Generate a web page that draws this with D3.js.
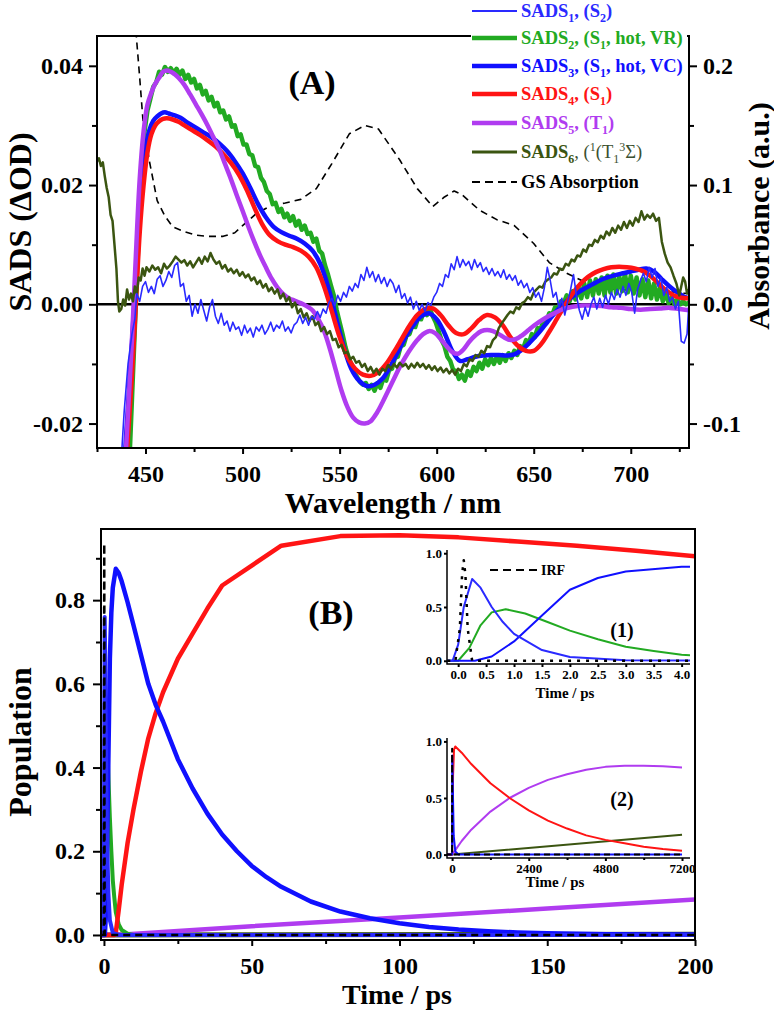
<!DOCTYPE html>
<html>
<head>
<meta charset="utf-8">
<script src="https://cdn.jsdelivr.net/npm/d3@7"></script>
<style>
  body { margin: 0; background: #fff; }
  svg { display: block; }
</style>
</head>
<body>
<svg id="chart" width="774" height="1011"></svg>
<script>
// ---------- data, panel A (SADS spectra) ----------
const nmTicks = [450, 500, 550, 600, 650, 700];
const nmMinor = [425, 475, 525, 575, 625, 675, 725];
const sadsTicks = [-0.02, 0, 0.02, 0.04];
const sadsMinor = [-0.01, 0.01, 0.03];
const absTicks = [-0.1, 0, 0.1, 0.2];
const absMinor = [-0.05, 0.05, 0.15];

// SADS1 (S2), thin blue, [nm, dOD]
const sads1 = [[437.5,-0.026],[439,-0.018],[441,-0.010],[443,-0.005],[444.5,-0.0025],[445.5,0.0018],[447,0.0005],[448.5,0.0030],[450,0.0038],[451.5,0.0020],[453,0.0030],[454.5,0.0018],[456,0.0042],[457.5,0.0048],[459,0.0030],[460.5,0.0040],[462,0.0055],[463.5,0.0045],[465,0.0065],[466.5,0.0070],[468,0.0030],[469.5,0.0035],[471,0.0005],[472.5,0.0015],[474,-0.0020],[475.5,0.0000],[477,-0.0015],[478.5,0.0008],[480,-0.0010],[481.5,-0.0028],[483,-0.0005],[484.5,0.0008],[486,-0.0020],[487.5,-0.0032],[489,-0.0015],[490.5,-0.0035],[492,-0.0028],[493.5,-0.0045],[495,-0.0030],[496.5,-0.0042],[498,-0.0038],[499.5,-0.0052],[501,-0.0035],[502.5,-0.0048],[504,-0.0040],[505.5,-0.0055],[507,-0.0038],[508.5,-0.0045],[510,-0.0035],[511.5,-0.0050],[513,-0.0042],[514.5,-0.0030],[516,-0.0045],[517.5,-0.0035],[519,-0.0040],[520.5,-0.0028],[522,-0.0045],[523.5,-0.0038],[525,-0.0048],[526.5,-0.0035],[528,-0.0030],[529.5,-0.0018],[531,-0.0032],[532.5,-0.0022],[534,-0.0035],[535.5,-0.0020],[537,-0.0025],[538.5,-0.0012],[540,-0.0022],[541.5,-0.0008],[543,-0.0015],[544.5,0.0003],[546,0.0010],[547.5,-0.0002],[549,0.0015],[550.5,0.0005],[552,0.0020],[553.5,0.0012],[555,0.0030],[556.5,0.0022],[558,0.0035],[559.5,0.0028],[561,0.0050],[562.5,0.0040],[564,0.0062],[565.5,0.0045],[567,0.0055],[568.5,0.0038],[570,0.0050],[571.5,0.0035],[573,0.0045],[574.5,0.0030],[576,0.0042],[577.5,0.0035],[579,0.0020],[580.5,0.0032],[582,0.0010],[583.5,0.0018],[585,0.0002],[586.5,0.0012],[588,-0.0008],[589.5,0.0005],[591,-0.0010],[592.5,0.0000],[594,-0.0012],[595.5,0.0003],[597,-0.0002],[598.5,0.0012],[600,0.0020],[601.5,0.0035],[603,0.0030],[604.5,0.0050],[606,0.0045],[607.5,0.0068],[609,0.0058],[610.5,0.0080],[612,0.0062],[613.5,0.0075],[615,0.0065],[616.5,0.0072],[618,0.0058],[619.5,0.0075],[621,0.0062],[622.5,0.0070],[624,0.0055],[625.5,0.0062],[627,0.0050],[628.5,0.0060],[630,0.0048],[631.5,0.0055],[633,0.0045],[634.5,0.0058],[636,0.0042],[637.5,0.0050],[639,0.0040],[640.5,0.0048],[642,0.0032],[643.5,0.0040],[645,0.0028],[646.5,0.0035],[648,0.0020],[649.5,0.0028],[651,0.0012],[652.5,0.0020],[654,0.0005],[655.5,0.0028],[657,0.0062],[658.5,0.0040],[660,0.0012],[661.5,0.0020],[663,-0.0005],[664.5,0.0010],[666,-0.0018],[667.5,0.0005],[669,0.0025],[670.5,0.0050],[672,0.0015],[673.5,-0.0010],[675,-0.0025],[676.5,-0.0005],[678,-0.0020],[679.5,0.0000],[681,0.0012],[682.5,-0.0008],[684,0.0010],[685.5,-0.0005],[687,0.0015],[688.5,0.0000],[690,0.0020],[691.5,0.0008],[693,0.0025],[694.5,0.0012],[696,0.0030],[697.5,0.0015],[699,0.0035],[700.5,0.0020],[702,-0.0015],[703.5,0.0025],[705,0.0040],[706.5,0.0052],[708,0.0038],[709.5,0.0062],[711,0.0045],[712.5,0.0060],[714,0.0030],[715.5,0.0045],[717,0.0015],[718.5,0.0028],[720,0.0005],[721.5,0.0012],[723,-0.0008],[724.5,0.0005],[726,-0.0062],[727.5,-0.0065],[729,-0.0050],[730,0.0005]];

// SADS2 (S1 hot VR), green
const sads2 = [[442,-0.024],[443.5,-0.012],[445,0.000],[446.5,0.012],[448,0.022],[449.5,0.029],[451,0.0325],[452.5,0.0345],[454,0.0365],[455.5,0.0372],[457,0.0390],[458.5,0.0385],[460,0.0398],[461.5,0.0390],[463,0.0396],[464.5,0.0388],[466,0.0395],[467.5,0.0385],[469,0.0392],[470.5,0.0378],[472,0.0385],[473.5,0.0372],[475,0.0378],[476.5,0.0362],[478,0.0368],[479.5,0.0352],[481,0.0358],[482.5,0.0342],[484,0.0348],[485.5,0.0332],[487,0.0338],[488.5,0.0322],[490,0.0325],[491.5,0.0310],[493,0.0315],[494.5,0.0298],[496,0.0300],[497.5,0.0282],[499,0.0285],[500.5,0.0268],[502,0.0268],[503.5,0.0252],[505,0.0250],[506.5,0.0232],[508,0.0230],[509.5,0.0212],[511,0.0205],[512.5,0.0190],[514,0.0185],[515.5,0.0168],[517,0.0170],[518.5,0.0155],[520,0.0160],[521.5,0.0146],[523,0.0152],[524.5,0.0140],[526,0.0148],[527.5,0.0132],[529,0.0140],[530.5,0.0125],[532,0.0132],[533.5,0.0118],[535,0.0120],[536.5,0.0105],[538,0.0110],[539.5,0.0090],[541,0.0085],[542.5,0.0065],[544,0.0050],[545.5,0.0032],[547,0.0015],[548.5,-0.0010],[550,-0.0030],[551.5,-0.0050],[553,-0.0072],[554.5,-0.0088],[556,-0.0100],[557.5,-0.0115],[559,-0.0122],[560.5,-0.0130],[562,-0.0135],[563.5,-0.0132],[565,-0.0142],[566.5,-0.0135],[568,-0.0145],[569.5,-0.0132],[571,-0.0140],[572.5,-0.0125],[574,-0.0128],[575.5,-0.0110],[577,-0.0108],[578.5,-0.0090],[580,-0.0088],[581.5,-0.0070],[583,-0.0068],[584.5,-0.0052],[586,-0.0050],[587.5,-0.0035],[589,-0.0038],[590.5,-0.0022],[592,-0.0025],[593.5,-0.0012],[595,-0.0018],[596.5,-0.0008],[598,-0.0020],[599.5,-0.0030],[601,-0.0045],[602.5,-0.0060],[604,-0.0070],[605.5,-0.0088],[607,-0.0095],[608.5,-0.0110],[610,-0.0112],[611.5,-0.0125],[613,-0.0118],[614.5,-0.0128],[616,-0.0112],[617.5,-0.0120],[619,-0.0105],[620.5,-0.0112],[622,-0.0098],[623.5,-0.0108],[625,-0.0092],[626.5,-0.0102],[628,-0.0090],[629.5,-0.0100],[631,-0.0088],[632.5,-0.0098],[634,-0.0085],[635.5,-0.0095],[637,-0.0082],[638.5,-0.0090],[640,-0.0078],[641.5,-0.0085],[643,-0.0070],[644.5,-0.0075],[646,-0.0060],[647.5,-0.0065],[649,-0.0050],[650.5,-0.0055],[652,-0.0040],[653.5,-0.0042],[655,-0.0028],[656.5,-0.0030],[658,-0.0015],[659.5,-0.0018],[661,-0.0005],[662.5,-0.0008],[664,0.0005],[665.5,0.0002],[667,0.0015],[668.5,0.0005],[670,0.0022],[671.5,0.0008],[673,0.0030],[674.5,0.0010],[676,0.0035],[677.5,0.0012],[679,0.0040],[680.5,0.0015],[682,0.0042],[683.5,0.0018],[685,0.0045],[686.5,0.0015],[688,0.0048],[689.5,0.0020],[691,0.0050],[692.5,0.0018],[694,0.0048],[695.5,0.0022],[697,0.0052],[698.5,0.0020],[700,0.0048],[701.5,0.0018],[703,0.0045],[704.5,0.0015],[706,0.0042],[707.5,0.0012],[709,0.0040],[710.5,0.0010],[712,0.0035],[713.5,0.0008],[715,0.0028],[716.5,0.0005],[718,0.0020],[719.5,0.0002],[721,0.0012],[722.5,0.0000],[724,0.0008],[725.5,0.0000],[727,0.0005],[728.5,0.0000],[730,0.0003]];

// SADS3 (S1 hot VC), blue
const sads3 = [[438.5,-0.030],[440,-0.022],[442,-0.012],[444,-0.001],[446,0.011],[448,0.020],[450,0.026],[452,0.0292],[454,0.0308],[456,0.0315],[458,0.0320],[460,0.0322],[462,0.0320],[465,0.0317],[468,0.0313],[471,0.0306],[474,0.0300],[477,0.0294],[480,0.0288],[484,0.0280],[488,0.0270],[492,0.0257],[496,0.0240],[500,0.0220],[504,0.0195],[508,0.0168],[512,0.0146],[516,0.0130],[520,0.0121],[524,0.0115],[528,0.0110],[532,0.0102],[536,0.0090],[540,0.0068],[544,0.0030],[548,-0.0020],[552,-0.0070],[556,-0.0108],[560,-0.0128],[564,-0.0137],[568,-0.0135],[572,-0.0125],[576,-0.0105],[580,-0.0080],[584,-0.0055],[588,-0.0035],[592,-0.0020],[596,-0.0015],[600,-0.0025],[604,-0.0048],[608,-0.0078],[612,-0.0095],[616,-0.0092],[620,-0.0088],[624,-0.0086],[628,-0.0085],[632,-0.0085],[636,-0.0086],[640,-0.0084],[644,-0.0076],[648,-0.0064],[652,-0.0050],[656,-0.0034],[660,-0.0018],[664,-0.0004],[668,0.0008],[672,0.0018],[676,0.0026],[680,0.0033],[684,0.0040],[688,0.0045],[692,0.0049],[696,0.0052],[700,0.0055],[704,0.0058],[708,0.0060],[712,0.0055],[716,0.0042],[720,0.0030],[724,0.0020],[728,0.0012],[730,0.0010]];

// SADS4 (S1), red
const sads4 = [[439.5,-0.030],[441,-0.022],[443,-0.012],[445,0.000],[447,0.012],[449,0.020],[451,0.0255],[453,0.0285],[455,0.0300],[457,0.0307],[459,0.0311],[461,0.0312],[464,0.0310],[467,0.0306],[470,0.0300],[474,0.0292],[478,0.0284],[482,0.0275],[486,0.0265],[490,0.0252],[494,0.0237],[498,0.0218],[502,0.0193],[506,0.0163],[510,0.0135],[514,0.0116],[518,0.0106],[522,0.0100],[526,0.0096],[530,0.0090],[534,0.0080],[538,0.0062],[542,0.0030],[546,-0.0012],[550,-0.0055],[554,-0.0088],[558,-0.0108],[562,-0.0118],[566,-0.0120],[570,-0.0114],[574,-0.0100],[578,-0.0080],[582,-0.0058],[586,-0.0036],[590,-0.0018],[594,-0.0008],[598,-0.0007],[602,-0.0018],[606,-0.0035],[610,-0.0048],[614,-0.0050],[618,-0.0040],[622,-0.0026],[626,-0.0018],[630,-0.0022],[634,-0.0035],[638,-0.0055],[642,-0.0070],[646,-0.0078],[650,-0.0078],[654,-0.0066],[658,-0.0046],[662,-0.0024],[666,-0.0002],[670,0.0018],[674,0.0034],[678,0.0046],[682,0.0054],[686,0.0059],[690,0.0062],[694,0.0063],[698,0.0062],[702,0.0060],[706,0.0056],[710,0.0048],[714,0.0036],[718,0.0024],[722,0.0015],[726,0.0011],[730,0.0010]];

// SADS5 (T1), purple
const sads5 = [[439,-0.030],[441,-0.018],[443,-0.006],[445,0.008],[447,0.021],[449,0.029],[451,0.0335],[453,0.0355],[455,0.0370],[457,0.0380],[459,0.0390],[461,0.0392],[463,0.0390],[465,0.0386],[467,0.0380],[470,0.0368],[473,0.0352],[476,0.0335],[479,0.0318],[482,0.0300],[485,0.0280],[488,0.0260],[491,0.0235],[494,0.0210],[497,0.0183],[500,0.0157],[503,0.0130],[506,0.0105],[509,0.0082],[512,0.0062],[515,0.0043],[518,0.0028],[521,0.0017],[524,0.0010],[527,0.0006],[530,0.0002],[533,-0.0003],[536,-0.0010],[539,-0.0025],[542,-0.0045],[545,-0.0075],[548,-0.0110],[551,-0.0145],[554,-0.0172],[557,-0.0190],[560,-0.0198],[563,-0.0200],[566,-0.0196],[569,-0.0183],[572,-0.0165],[575,-0.0145],[578,-0.0125],[581,-0.0105],[584,-0.0088],[587,-0.0073],[590,-0.0060],[593,-0.0050],[596,-0.0045],[599,-0.0048],[602,-0.0058],[605,-0.0070],[608,-0.0080],[611,-0.0083],[614,-0.0075],[617,-0.0062],[620,-0.0052],[623,-0.0045],[626,-0.0043],[629,-0.0045],[632,-0.0050],[635,-0.0056],[638,-0.0060],[641,-0.0058],[644,-0.0052],[647,-0.0044],[650,-0.0036],[655,-0.0025],[660,-0.0016],[665,-0.0008],[670,-0.0004],[675,-0.0002],[680,-0.0002],[685,-0.0003],[690,-0.0005],[695,-0.0006],[700,-0.0008],[705,-0.0009],[710,-0.0008],[715,-0.0007],[720,-0.0006],[725,-0.0008],[730,-0.0010]];

// SADS6, olive
const sads6 = [[425,0.0240],[426,0.0245],[427,0.0232],[428,0.0238],[429,0.0215],[430,0.0195],[431,0.0180],[432,0.0150],[433,0.0140],[434,0.0100],[435,0.0060],[435.8,0.0005],[436.5,-0.0012],[437.5,-0.0008],[438.5,0.0008],[439.5,-0.0002],[440.5,0.0025],[441.5,0.0008],[442.5,0.0018],[443.5,0.0005],[444.5,0.0030],[445.5,0.0018],[446.5,0.0045],[447.5,0.0040],[448.5,0.0060],[449.5,0.0048],[450.5,0.0062],[452,0.0055],[453.5,0.0065],[455,0.0058],[456.5,0.0062],[458,0.0052],[459.5,0.0068],[461,0.0060],[462.5,0.0065],[464,0.0072],[465.5,0.0080],[467,0.0075],[468.5,0.0070],[470,0.0074],[471.5,0.0065],[473,0.0072],[474.5,0.0062],[476,0.0070],[477.5,0.0078],[479,0.0068],[480.5,0.0080],[482,0.0072],[483.5,0.0086],[485,0.0075],[486.5,0.0068],[488,0.0072],[489.5,0.0060],[491,0.0066],[492.5,0.0055],[494,0.0060],[495.5,0.0052],[497,0.0058],[498.5,0.0048],[500,0.0054],[501.5,0.0045],[503,0.0050],[504.5,0.0040],[506,0.0045],[507.5,0.0034],[509,0.0040],[510.5,0.0028],[512,0.0034],[513.5,0.0022],[515,0.0028],[516.5,0.0018],[518,0.0025],[519.5,0.0010],[521,0.0018],[522.5,0.0005],[524,0.0012],[525.5,-0.0005],[527,0.0003],[528.5,-0.0015],[530,-0.0008],[531.5,-0.0022],[533,-0.0015],[534.5,-0.0028],[536,-0.0020],[537.5,-0.0035],[539,-0.0030],[540.5,-0.0045],[542,-0.0038],[543.5,-0.0050],[545,-0.0045],[546.5,-0.0060],[548,-0.0058],[549.5,-0.0072],[551,-0.0068],[552.5,-0.0082],[554,-0.0080],[555.5,-0.0092],[557,-0.0088],[558.5,-0.0098],[560,-0.0095],[561.5,-0.0105],[563,-0.0100],[564.5,-0.0112],[566,-0.0105],[567.5,-0.0115],[569,-0.0108],[570.5,-0.0118],[572,-0.0108],[573.5,-0.0112],[575,-0.0102],[576.5,-0.0108],[578,-0.0100],[579.5,-0.0106],[581,-0.0098],[582.5,-0.0104],[584,-0.0100],[585.5,-0.0108],[587,-0.0100],[588.5,-0.0106],[590,-0.0098],[591.5,-0.0105],[593,-0.0100],[594.5,-0.0108],[596,-0.0102],[597.5,-0.0110],[599,-0.0104],[600.5,-0.0112],[602,-0.0106],[603.5,-0.0114],[605,-0.0108],[606.5,-0.0116],[608,-0.0110],[609.5,-0.0118],[611,-0.0108],[612.5,-0.0112],[614,-0.0100],[615.5,-0.0104],[617,-0.0092],[618.5,-0.0095],[620,-0.0085],[621.5,-0.0088],[623,-0.0078],[624.5,-0.0082],[626,-0.0070],[627.5,-0.0072],[629,-0.0060],[630.5,-0.0055],[632,-0.0040],[633.5,-0.0032],[635,-0.0025],[636.5,-0.0018],[638,-0.0012],[639.5,-0.0015],[641,-0.0005],[642.5,-0.0008],[644,0.0002],[645.5,0.0005],[647,0.0012],[648.5,0.0008],[650,0.0020],[651.5,0.0025],[653,0.0030],[654.5,0.0028],[656,0.0038],[657.5,0.0042],[659,0.0045],[660.5,0.0052],[662,0.0050],[663.5,0.0060],[665,0.0058],[666.5,0.0068],[668,0.0065],[669.5,0.0075],[671,0.0072],[672.5,0.0082],[674,0.0080],[675.5,0.0092],[677,0.0088],[678.5,0.0100],[680,0.0098],[681.5,0.0108],[683,0.0104],[684.5,0.0115],[686,0.0110],[687.5,0.0122],[689,0.0116],[690.5,0.0128],[692,0.0120],[693.5,0.0132],[695,0.0125],[696.5,0.0138],[698,0.0128],[699.5,0.0140],[701,0.0132],[702.5,0.0145],[704,0.0138],[705.5,0.0156],[707,0.0142],[708.5,0.0150],[710,0.0145],[711.5,0.0152],[713,0.0140],[714.5,0.0145],[716,0.0105],[717.5,0.0085],[719,0.0070],[720.5,0.0062],[722,0.0048],[723.5,0.0035],[725,0.0015],[726,0.0030],[727,0.0045],[728,0.0038],[729,0.0018],[730,0.0025]];

// ground state absorption, right axis [nm, a.u.]
const gsAbs = [[443.5,0.30],[445,0.23],[447,0.19],[448.7,0.154],[452,0.12],[456,0.087],[460,0.074],[464,0.065],[470,0.061],[476,0.058],[482,0.057],[490,0.057],[496,0.060],[500,0.066],[507,0.076],[515,0.083],[522,0.085],[530,0.088],[538,0.097],[546,0.118],[555,0.143],[563,0.150],[570,0.147],[581,0.121],[590,0.097],[598,0.082],[604,0.090],[609,0.095],[613,0.092],[622,0.079],[631,0.071],[640,0.066],[650,0.051],[658,0.035],[667,0.026],[676,0.019],[684,0.0145],[695,0.012],[712,0.013],[725,0.0095],[730,0.009]];

const seriesNames = ["SADS1", "SADS2", "SADS3", "SADS4", "SADS5", "SADS6", "GS Absorption"];
const seriesColors = ["#2a2aff", "#22aa22", "#1010ff", "#ff1414", "#b03cf0", "#3b5511", "#000"];

// legend text: [text, "sub" | "sup" | ""] pieces
const legendText = [
  [["SADS"], ["1", "sub"], [", (S"], ["2", "sub"], [")"]],
  [["SADS"], ["2", "sub"], [", (S"], ["1", "sub"], [", hot, VR)"]],
  [["SADS"], ["3", "sub"], [", (S"], ["1", "sub"], [", hot, VC)"]],
  [["SADS"], ["4", "sub"], [", (S"], ["1", "sub"], [")"]],
  [["SADS"], ["5", "sub"], [", (T"], ["1", "sub"], [")"]],
  [["SADS"], ["6", "sub"], [", ("], ["1", "sup"], ["(T"], ["1", "sub"], ["3", "sup"], ["\u03A3)"]],
  [["GS Absorption"]]
];

// ---------- data, panel B (populations) ----------
const timeTicks = [0, 50, 100, 150, 200];
const timeMinor = [25, 75, 125, 175];
const popTicks = [0, 0.2, 0.4, 0.6, 0.8];
const popMinor = [0.1, 0.3, 0.5, 0.7, 0.9];

const popS1 = [[-1,0],[-0.1,0],[0,0.15],[0.1,0.5],[0.25,0.76],[0.4,0.68],[0.6,0.5],[0.8,0.36],[1,0.25],[1.5,0.1],[2,0.035],[3,0.005],[5,0],[200,0]];
const popS2 = [[-1,0],[0,0],[0.2,0.12],[0.4,0.33],[0.6,0.45],[0.85,0.48],[1.2,0.44],[1.6,0.36],[2,0.28],[2.5,0.2],[3,0.13],[3.5,0.09],[4,0.055],[5,0.025],[6,0.012],[8,0.003],[10,0],[200,0]];
const popS3 = [[-1,0],[0.3,0],[0.6,0.04],[1,0.18],[1.5,0.42],[2,0.66],[2.5,0.77],[3,0.83],[4,0.875],[5,0.865],[6,0.845],[8,0.795],[10,0.74],[12.5,0.67],[15,0.6],[17.5,0.55],[20,0.51],[25,0.42],[30,0.35],[35,0.29],[40,0.24],[45,0.2],[50,0.165],[55,0.138],[60,0.115],[70,0.08],[80,0.056],[90,0.04],[100,0.028],[110,0.019],[120,0.013],[130,0.009],[140,0.006],[150,0.004],[170,0.002],[200,0.001]];
const popS4 = [[-1,0],[3.5,0],[4,0.005],[5,0.06],[6,0.12],[8,0.22],[10,0.30],[12.5,0.39],[15,0.47],[17.5,0.53],[20,0.58],[25,0.66],[30,0.72],[35,0.78],[40,0.835],[60,0.93],[80,0.953],[100,0.955],[120,0.95],[140,0.94],[160,0.93],[180,0.918],[200,0.905]];
const popS5 = [[-1,0],[8,0.002],[50,0.021],[100,0.042],[150,0.063],[200,0.085]];
const popS6 = [[-1,0],[200,0.002]];
const irf = [[-1,0],[-0.05,0],[0.03,0.3],[0.07,0.8],[0.1,0.935],[0.13,0.8],[0.17,0.3],[0.25,0],[200,0]];

// long-time populations for inset (2)
const longS3 = [[-200,0],[0,0],[4,0.875],[50,0.165],[100,0.028],[200,0.001],[7200,0]];
const longS4 = [[-200,0],[0,0],[30,0.7],[60,0.93],[100,0.955],[300,0.9],[600,0.8],[1200,0.63],[1800,0.5],[2400,0.39],[3000,0.3],[3600,0.23],[4200,0.17],[4800,0.13],[5400,0.1],[6000,0.07],[6600,0.05],[7200,0.035]];
const longS5 = [[-200,0],[0,0],[100,0.04],[300,0.12],[600,0.22],[1200,0.38],[1800,0.5],[2400,0.59],[3000,0.66],[3600,0.71],[4200,0.75],[4800,0.775],[5400,0.785],[6000,0.785],[6600,0.78],[7200,0.77]];
const longS6 = [[-200,0],[0,0],[7200,0.175]];
const longIrf = [[-200,0],[0,0],[0.1,0.935],[0.2,0],[7200,0]];

const inset1Ticks = [0, 0.5, 1, 1.5, 2, 2.5, 3, 3.5, 4];
const inset2Ticks = [0, 2400, 4800, 7200];
const inset2Minor = [1200, 3600, 6000];
const insetYTicks = [0, 0.5, 1];

// ---------- drawing ----------
const FONT = "'Liberation Serif','Times New Roman',Times,serif";
const svg = d3.select("#chart");

function styleAxis(g, fs) {
  g.attr("font-family", null).attr("font-size", null);
  g.select(".domain").remove();
  g.selectAll(".tick line").attr("stroke", "#000").attr("stroke-width", 2);
  g.selectAll(".tick text")
    .attr("font-family", FONT)
    .attr("font-weight", "bold")
    .attr("font-size", fs)
    .attr("fill", "#000");
}

function addLine(g, data, x, y, color, width, dash, curve) {
  g.append("path")
    .datum(data)
    .attr("fill", "none")
    .attr("stroke", color)
    .attr("stroke-width", width)
    .attr("stroke-linejoin", "round")
    .attr("stroke-dasharray", dash || null)
    .attr("d", d3.line().x(d => x(d[0])).y(d => y(d[1])).curve(curve || d3.curveLinear));
}

function label(txt, x, y, fs, rot, anchor) {
  svg.append("text")
    .attr("transform", "translate(" + x + "," + y + ")" + (rot ? " rotate(" + rot + ")" : ""))
    .attr("text-anchor", anchor || "middle")
    .attr("font-family", FONT)
    .attr("font-weight", "bold")
    .attr("font-size", fs)
    .text(txt);
}

// ===== panel A =====
const xA = d3.scaleLinear().domain([425, 730]).range([97, 689]);
const yA = d3.scaleLinear().domain([-0.0241, 0.045]).range([448, 36]);
const yA2 = d3.scaleLinear().domain([-0.1205, 0.225]).range([448, 36]);

svg.append("clipPath").attr("id", "clipA")
  .append("rect").attr("x", 97).attr("y", 36).attr("width", 592).attr("height", 412);

const gA = svg.append("g").attr("clip-path", "url(#clipA)");

// zero line
gA.append("line")
  .attr("x1", 97).attr("x2", 689)
  .attr("y1", yA(0)).attr("y2", yA(0))
  .attr("stroke", "#000").attr("stroke-width", 2.5);

addLine(gA, gsAbs, xA, yA2, "#000", 1.6, "7,5");
addLine(gA, sads2, xA, yA, seriesColors[1], 4.5);
addLine(gA, sads3, xA, yA, seriesColors[2], 4.5, null, d3.curveCatmullRom);
addLine(gA, sads4, xA, yA, seriesColors[3], 4.5, null, d3.curveCatmullRom);
addLine(gA, sads5, xA, yA, seriesColors[4], 4.5, null, d3.curveCatmullRom);
addLine(gA, sads6, xA, yA, seriesColors[5], 2.5);
addLine(gA, sads1, xA, yA, seriesColors[0], 1.6);

// axes A
let g;
g = svg.append("g").attr("transform", "translate(0,448)")
  .call(d3.axisBottom(xA).tickValues(nmTicks).tickSize(6).tickPadding(11).tickFormat(d3.format("d")));
styleAxis(g, 24);
g = svg.append("g").attr("transform", "translate(0,448)")
  .call(d3.axisBottom(xA).tickValues(nmMinor).tickSize(4).tickFormat(""));
styleAxis(g, 24);
g = svg.append("g").attr("transform", "translate(97,0)")
  .call(d3.axisLeft(yA).tickValues(sadsTicks).tickSize(8).tickPadding(6).tickFormat(d3.format(".2f")));
styleAxis(g, 24);
g.selectAll(".tick text").text(d => d < 0 ? "-" + Math.abs(d).toFixed(2) : d.toFixed(2));
g = svg.append("g").attr("transform", "translate(97,0)")
  .call(d3.axisLeft(yA).tickValues(sadsMinor).tickSize(5).tickFormat(""));
styleAxis(g, 24);
g = svg.append("g").attr("transform", "translate(689,0)")
  .call(d3.axisRight(yA2).tickValues(absTicks).tickSize(8).tickPadding(6));
styleAxis(g, 24);
g.selectAll(".tick text").text(d => d < 0 ? "-" + Math.abs(d).toFixed(1) : d.toFixed(1));
g = svg.append("g").attr("transform", "translate(689,0)")
  .call(d3.axisRight(yA2).tickValues(absMinor).tickSize(5).tickFormat(""));
styleAxis(g, 24);

svg.append("rect").attr("x", 97).attr("y", 36).attr("width", 592).attr("height", 412)
  .attr("fill", "none").attr("stroke", "#000").attr("stroke-width", 2);

// legend (covers the frame top)
svg.append("rect").attr("x", 471).attr("y", 0).attr("width", 216).attr("height", 194).attr("fill", "#fff");
const legRows = [11, 38, 66, 94, 123, 152, 182];
legendText.forEach((parts, i) => {
  const ly = legRows[i];
  svg.append("line")
    .attr("x1", 472).attr("x2", 517).attr("y1", ly).attr("y2", ly)
    .attr("stroke", seriesColors[i])
    .attr("stroke-width", i === 0 ? 2 : (i === 6 ? 2 : (i === 5 ? 3 : 4.5)))
    .attr("stroke-dasharray", i === 6 ? "8,5" : null);
  const t = svg.append("text")
    .attr("x", 521).attr("y", ly + 6)
    .attr("font-family", FONT).attr("font-weight", "bold").attr("font-size", 18.5)
    .attr("fill", seriesColors[i]);
  let shift = 0;
  parts.forEach((p, k) => {
    const kind = p[1] || "";
    const target = kind === "sub" ? 5 : (kind === "sup" ? -7 : 0);
    const ts = t.append("tspan").attr("dy", target - shift).text(p[0]);
    if (kind) ts.attr("font-size", 12);
    if (i === 5 && k >= 2) ts.attr("font-weight", "normal").attr("fill", "#3a5030");
    shift = target;
  });
});

label("(A)", 312, 94, 34);
label("Wavelength / nm", 393, 513, 30);
label("SADS (\u0394OD)", 31, 222, 32, -90);
label("Absorbance (a.u.)", 769, 216, 30, -90);

// ===== panel B =====
const xB = d3.scaleLinear().domain([-1, 200]).range([101, 695]);
const yB = d3.scaleLinear().domain([-0.012, 0.97]).range([940, 529]);

svg.append("clipPath").attr("id", "clipB")
  .append("rect").attr("x", 101).attr("y", 529).attr("width", 594).attr("height", 411);
const gB = svg.append("g").attr("clip-path", "url(#clipB)");

addLine(gB, popS6, xB, yB, seriesColors[5], 5);
addLine(gB, popS5, xB, yB, seriesColors[4], 4.5);
addLine(gB, popS2, xB, yB, seriesColors[1], 4);
addLine(gB, popS4, xB, yB, seriesColors[3], 4.5);
addLine(gB, popS3, xB, yB, seriesColors[2], 4.5);
addLine(gB, popS1, xB, yB, seriesColors[0], 4);
addLine(gB, irf, xB, yB, "#000", 2.5, "7,5");

g = svg.append("g").attr("transform", "translate(0,940)")
  .call(d3.axisBottom(xB).tickValues(timeTicks).tickSize(6).tickPadding(11).tickFormat(d3.format("d")));
styleAxis(g, 24);
g = svg.append("g").attr("transform", "translate(0,940)")
  .call(d3.axisBottom(xB).tickValues(timeMinor).tickSize(4).tickFormat(""));
styleAxis(g, 24);
g = svg.append("g").attr("transform", "translate(101,0)")
  .call(d3.axisLeft(yB).tickValues(popTicks).tickSize(8).tickPadding(8).tickFormat(d3.format(".1f")));
styleAxis(g, 24);
g = svg.append("g").attr("transform", "translate(101,0)")
  .call(d3.axisLeft(yB).tickValues(popMinor).tickSize(5).tickFormat(""));
styleAxis(g, 24);

svg.append("rect").attr("x", 101).attr("y", 529).attr("width", 594).attr("height", 411)
  .attr("fill", "none").attr("stroke", "#000").attr("stroke-width", 2);

label("(B)", 331, 624, 34);
label("Time / ps", 397, 1004, 28);
label("Population", 31, 742, 32, -90);

// ----- inset (1) -----
const xI1 = d3.scaleLinear().domain([-0.2, 4.15]).range([447, 690]);
const yI1 = d3.scaleLinear().domain([-0.03, 1.03]).range([664, 550]);
svg.append("clipPath").attr("id", "clipI1")
  .append("rect").attr("x", 447).attr("y", 550).attr("width", 243).attr("height", 114);
const gI1 = svg.append("g").attr("clip-path", "url(#clipI1)");
addLine(gI1, popS2, xI1, yI1, seriesColors[1], 2);
addLine(gI1, popS3, xI1, yI1, seriesColors[2], 2);
addLine(gI1, popS1, xI1, yI1, seriesColors[0], 2);
addLine(gI1, irf, xI1, yI1, "#000", 2.5, "3,6");

g = svg.append("g").attr("transform", "translate(0,664)")
  .call(d3.axisBottom(xI1).tickValues(inset1Ticks).tickSize(3).tickPadding(3).tickFormat(d3.format(".1f")));
styleAxis(g, 13);
g = svg.append("g").attr("transform", "translate(447,0)")
  .call(d3.axisLeft(yI1).tickValues(insetYTicks).tickSize(3).tickPadding(2).tickFormat(d3.format(".1f")));
styleAxis(g, 13);
svg.append("path").attr("d", "M447,550V664H690").attr("fill", "none").attr("stroke", "#000").attr("stroke-width", 1.5);
svg.append("line").attr("x1", 490).attr("x2", 537).attr("y1", 570).attr("y2", 570)
  .attr("stroke", "#000").attr("stroke-width", 2).attr("stroke-dasharray", "8,5");
label("IRF", 541, 575, 14, 0, "start");
label("(1)", 622, 637, 20);
label("Time / ps", 565, 698, 15);

// ----- inset (2) -----
const xI2 = d3.scaleLinear().domain([-160, 7450]).range([447, 690]);
const yI2 = d3.scaleLinear().domain([-0.03, 1.03]).range([858, 738]);
svg.append("clipPath").attr("id", "clipI2")
  .append("rect").attr("x", 447).attr("y", 738).attr("width", 243).attr("height", 120);
const gI2 = svg.append("g").attr("clip-path", "url(#clipI2)");
addLine(gI2, longS6, xI2, yI2, seriesColors[5], 2);
addLine(gI2, longS5, xI2, yI2, seriesColors[4], 2);
addLine(gI2, longS4, xI2, yI2, seriesColors[3], 2);
addLine(gI2, longS3, xI2, yI2, seriesColors[2], 2);
addLine(gI2, longIrf, xI2, yI2, "#000", 2, "6,4");

g = svg.append("g").attr("transform", "translate(0,858)")
  .call(d3.axisBottom(xI2).tickValues(inset2Ticks).tickSize(3).tickPadding(3).tickFormat(d3.format("d")));
styleAxis(g, 13);
g = svg.append("g").attr("transform", "translate(0,858)")
  .call(d3.axisBottom(xI2).tickValues(inset2Minor).tickSize(2).tickFormat(""));
styleAxis(g, 13);
g = svg.append("g").attr("transform", "translate(447,0)")
  .call(d3.axisLeft(yI2).tickValues(insetYTicks).tickSize(3).tickPadding(2).tickFormat(d3.format(".1f")));
styleAxis(g, 13);
svg.append("path").attr("d", "M447,738V858H690").attr("fill", "none").attr("stroke", "#000").attr("stroke-width", 1.5);
label("(2)", 622, 806, 20);
label("Time / ps", 555, 887, 15);
</script>
</body>
</html>
